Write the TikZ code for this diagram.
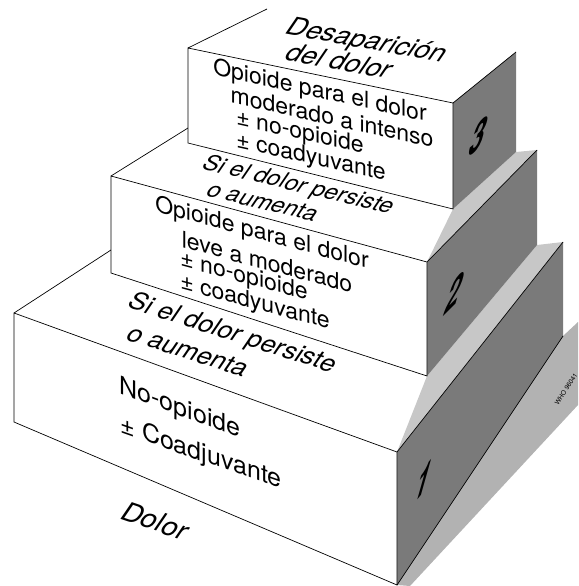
\documentclass[tikz,border=0pt]{standalone}
\usepackage{fontspec}
\setmainfont{TeX Gyre Heros}
\usetikzlibrary{calc}

\begin{document}
\begin{tikzpicture}[x = 1pt, y = -1pt,
	face/.style = {fill = white, draw = black, line width = 0.7pt},
	edge/.style = {draw = black, line width = 0.7pt},
	side/.style = {fill = black!52},
	strip/.style = {fill = black!22},
	floor/.style = {fill = black!30},
	front text/.style 2 args = {inner sep = 0pt, font = \fontsize{#2}{#2}\selectfont, yslant = -#1},
	top text/.style 2 args = {inner sep = 0pt, font = \fontsize{#2}{#2}\selectfont, cm = {1,-#1,0.58,0.85,(0,0)}},
	level num/.style = {inner sep = 0pt, font = \fontsize{44}{44}\selectfont\bfseries\itshape, cm = {0.6,#1,0.2,1,(0,0)}}]
	\useasboundingbox (0,0) rectangle (578,586);
	% corners of the three blocks
	\coordinate (A1) at (14,313);
	\coordinate (B1) at (397,452);
	\coordinate (C1) at (397,585);
	\coordinate (D1) at (14,422);
	\coordinate (E1) at (111,250);
	\coordinate (F1) at (563,242);
	\coordinate (G1) at (563,336);
	\coordinate (A2) at (111,176);
	\coordinate (B2) at (427,262);
	\coordinate (C2) at (427,376);
	\coordinate (D2) at (111,273);
	\coordinate (E2) at (188,128);
	\coordinate (F2) at (537,150);
	\coordinate (G2) at (537,245);
	\coordinate (A3) at (188,48);
	\coordinate (B3) at (453,103);
	\coordinate (C3) at (453,209);
	\coordinate (D3) at (188,143);
	\coordinate (E3) at (267,9);
	\coordinate (F3) at (516,52);
	\coordinate (G3) at (516,152);
	% shadow on the floor
	\coordinate (H1) at (578,322);
	\coordinate (I1) at (578,405);
	\coordinate (J1) at (410,586);
	\fill[floor] (C1) -- (G1) -- (H1) -- (I1) -- (J1) -- cycle;
	% block 1
	\fill[side] (B1) -- (F1) -- (G1) -- (C1) -- cycle;
	\fill[strip] (B1) -- (C2) -- (G2) -- (F1) -- cycle;
	\draw[face] (A1) -- (B1) -- (C1) -- (D1) -- cycle;
	\draw[edge] (A1) -- (E1);
	\draw[edge] (B1) -- (F1);
	\draw[edge] (C1) -- (G1);
	% block 2
	\fill[side] (B2) -- (F2) -- (G2) -- (C2) -- cycle;
	\fill[strip] (B2) -- (C3) -- (G3) -- (F2) -- cycle;
	\draw[face] (A2) -- (B2) -- (C2) -- (D2) -- cycle;
	\draw[edge] (A2) -- (E2);
	\draw[edge] (B2) -- (F2);
	% block 3
	\fill[side] (B3) -- (F3) -- (G3) -- (C3) -- cycle;
	\draw[face] (A3) -- (B3) -- (C3) -- (D3) -- cycle;
	\draw[edge] (A3) -- (E3);
	\draw[edge] (B3) -- (F3);
	% texts
	\node[top text = {0.18}{27}] (t3a) at (366,42) {Desaparición};
	\node[top text = {0.18}{27}] (t3b) at (340,61) {del dolor};
	\node[front text = {0.22}{23}] (f3a) at (320,92) {Opioide para el dolor};
	\node[front text = {0.22}{23}] (f3b) at (332,117) {moderado a intenso};
	\node[front text = {0.22}{23}] (f3c) at (300,133) {± no-opioide};
	\node[front text = {0.22}{23}] (f3d) at (311,158) {± coadyuvante};
	\node[level num = 0.5] (n3) at (478,137) {3};
	\node[top text = {0.24}{23}] (t2a) at (298,186) {Si el dolor persiste};
	\node[top text = {0.24}{23}] (t2b) at (263,202) {o aumenta};
	\node[front text = {0.27}{23}] (f2a) at (262,234) {Opioide para el dolor};
	\node[front text = {0.27}{23}] (f2b) at (267,262) {leve a moderado};
	\node[front text = {0.27}{23}] (f2c) at (244,277) {± no-opioide};
	\node[front text = {0.27}{23}] (f2d) at (255,303) {± coadyuvante};
	\node[level num = 0.6] (n2) at (454,293) {2};
	\node[top text = {0.32}{25}] (t1a) at (232,334) {Si el dolor persiste};
	\node[top text = {0.32}{25}] (t1b) at (188,351) {o aumenta};
	\node[front text = {0.37}{25}] (f1a) at (180,409) {No-opioide};
	\node[front text = {0.35}{25}] (f1b) at (201,454) {± Coadjuvante};
	\node[level num = 0.75] (n1) at (423,482) {1};
	\node[top text = {0.34}{27}] (t0) at (156,521) {Dolor};
	\node[inner sep = 0pt, font = \fontsize{6.5}{6.5}\selectfont, rotate = 57] (who) at (566,389) {WHO 96041};
\end{tikzpicture}
\end{document}
